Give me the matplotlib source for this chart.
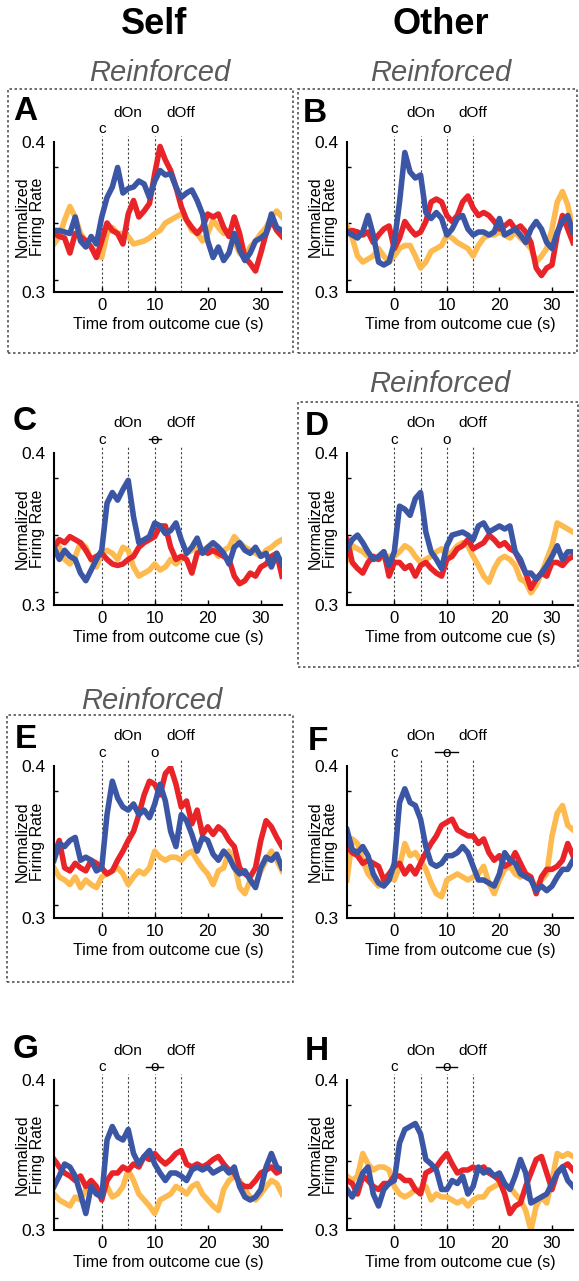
import numpy as np
import matplotlib.pyplot as plt
from matplotlib.patches import Rectangle
from matplotlib.transforms import blended_transform_factory

plt.rcParams['font.family'] = ['Liberation Sans', 'DejaVu Sans']

# time axis (s), one sample per second
time = np.arange(-9, 35)

# normalized firing rate
a_orange = [0.332,0.337,0.348,0.357,0.350,0.339,0.334,0.330,0.326,0.323,0.339,0.343,0.339,0.339,0.337,0.332,0.333,0.334,0.336,0.339,0.341,0.346,0.348,0.350,0.352,0.348,0.341,0.339,0.334,0.339,0.348,0.343,0.339,0.341,0.334,0.326,0.323,0.330,0.334,0.339,0.343,0.350,0.354,0.350]
a_red = [0.339,0.337,0.336,0.326,0.339,0.337,0.334,0.330,0.323,0.334,0.346,0.341,0.339,0.332,0.352,0.361,0.350,0.354,0.359,0.379,0.397,0.388,0.381,0.370,0.357,0.348,0.343,0.339,0.343,0.352,0.350,0.352,0.343,0.337,0.350,0.339,0.323,0.319,0.314,0.326,0.339,0.348,0.341,0.337]
a_blue = [0.341,0.341,0.340,0.339,0.350,0.334,0.330,0.337,0.332,0.350,0.363,0.370,0.383,0.366,0.369,0.370,0.374,0.372,0.363,0.374,0.381,0.378,0.379,0.370,0.363,0.366,0.368,0.361,0.352,0.334,0.323,0.330,0.321,0.326,0.339,0.328,0.321,0.326,0.334,0.336,0.339,0.352,0.343,0.341]

b_orange = [0.344,0.336,0.324,0.320,0.322,0.324,0.329,0.324,0.320,0.324,0.329,0.331,0.331,0.324,0.316,0.320,0.327,0.329,0.331,0.338,0.336,0.333,0.331,0.329,0.324,0.331,0.336,0.338,0.338,0.340,0.338,0.336,0.340,0.336,0.333,0.329,0.320,0.324,0.329,0.342,0.360,0.367,0.358,0.342]
b_red = [0.340,0.341,0.340,0.338,0.340,0.333,0.338,0.342,0.344,0.329,0.336,0.347,0.342,0.338,0.340,0.347,0.360,0.362,0.360,0.351,0.347,0.351,0.360,0.364,0.356,0.351,0.353,0.351,0.347,0.342,0.344,0.347,0.342,0.344,0.340,0.333,0.316,0.311,0.316,0.318,0.338,0.351,0.342,0.333]
b_blue = [0.340,0.338,0.336,0.340,0.351,0.338,0.320,0.318,0.320,0.333,0.360,0.393,0.380,0.376,0.378,0.353,0.349,0.353,0.349,0.338,0.342,0.349,0.351,0.342,0.338,0.340,0.340,0.338,0.340,0.349,0.338,0.340,0.342,0.338,0.333,0.342,0.347,0.342,0.333,0.329,0.340,0.347,0.351,0.340]

c_orange = [0.343,0.338,0.330,0.327,0.332,0.341,0.338,0.330,0.325,0.334,0.336,0.334,0.330,0.338,0.336,0.325,0.319,0.321,0.323,0.327,0.323,0.325,0.330,0.327,0.330,0.334,0.336,0.338,0.336,0.338,0.336,0.332,0.336,0.338,0.345,0.341,0.338,0.336,0.334,0.332,0.336,0.338,0.341,0.343]
c_red = [0.338,0.343,0.341,0.345,0.343,0.341,0.336,0.330,0.332,0.334,0.330,0.327,0.326,0.327,0.330,0.332,0.338,0.341,0.343,0.345,0.352,0.352,0.338,0.330,0.332,0.330,0.321,0.334,0.336,0.334,0.336,0.334,0.332,0.330,0.319,0.314,0.316,0.321,0.319,0.325,0.327,0.332,0.334,0.319]
c_blue = [0.338,0.330,0.336,0.332,0.330,0.321,0.316,0.323,0.330,0.336,0.367,0.374,0.369,0.376,0.382,0.358,0.341,0.343,0.345,0.354,0.352,0.347,0.349,0.354,0.343,0.334,0.338,0.344,0.334,0.338,0.341,0.338,0.334,0.327,0.338,0.341,0.336,0.334,0.338,0.332,0.334,0.325,0.334,0.327]

d_orange = [0.330,0.339,0.337,0.335,0.332,0.330,0.330,0.332,0.332,0.332,0.335,0.339,0.337,0.332,0.328,0.330,0.332,0.335,0.337,0.332,0.335,0.339,0.341,0.339,0.332,0.326,0.319,0.315,0.324,0.330,0.332,0.330,0.326,0.317,0.315,0.308,0.313,0.321,0.330,0.339,0.354,0.352,0.350,0.348]
d_red = [0.343,0.328,0.324,0.321,0.328,0.332,0.330,0.335,0.319,0.328,0.328,0.324,0.326,0.319,0.326,0.328,0.324,0.321,0.319,0.330,0.332,0.337,0.339,0.343,0.337,0.339,0.341,0.346,0.343,0.339,0.341,0.337,0.335,0.328,0.321,0.311,0.317,0.321,0.319,0.328,0.328,0.326,0.330,0.332]
d_blue = [0.337,0.343,0.346,0.341,0.335,0.330,0.332,0.335,0.326,0.335,0.365,0.363,0.359,0.370,0.374,0.348,0.335,0.330,0.324,0.339,0.346,0.347,0.348,0.346,0.343,0.352,0.354,0.348,0.350,0.352,0.350,0.352,0.335,0.330,0.321,0.321,0.317,0.321,0.326,0.332,0.339,0.330,0.335,0.335]

e_orange = [0.333,0.327,0.325,0.322,0.327,0.320,0.325,0.322,0.320,0.327,0.329,0.331,0.333,0.329,0.322,0.327,0.331,0.329,0.333,0.344,0.340,0.338,0.340,0.340,0.338,0.342,0.344,0.338,0.333,0.329,0.322,0.331,0.333,0.344,0.336,0.320,0.316,0.325,0.322,0.331,0.338,0.344,0.338,0.331]
e_red = [0.342,0.351,0.333,0.331,0.336,0.333,0.331,0.338,0.336,0.333,0.329,0.331,0.338,0.344,0.351,0.357,0.368,0.381,0.390,0.388,0.381,0.395,0.399,0.388,0.373,0.377,0.362,0.371,0.355,0.360,0.355,0.360,0.357,0.351,0.347,0.333,0.329,0.327,0.333,0.351,0.364,0.360,0.353,0.347]
e_blue = [0.338,0.349,0.347,0.351,0.353,0.338,0.340,0.338,0.331,0.333,0.368,0.390,0.379,0.373,0.371,0.375,0.368,0.371,0.366,0.375,0.388,0.377,0.357,0.347,0.368,0.364,0.355,0.344,0.353,0.351,0.342,0.338,0.344,0.340,0.333,0.329,0.331,0.325,0.320,0.333,0.340,0.338,0.342,0.333]

f_orange = [0.325,0.352,0.349,0.338,0.329,0.325,0.321,0.325,0.327,0.325,0.334,0.349,0.341,0.343,0.338,0.332,0.323,0.316,0.314,0.325,0.327,0.329,0.327,0.325,0.327,0.329,0.334,0.323,0.316,0.325,0.332,0.334,0.329,0.327,0.329,0.325,0.321,0.325,0.329,0.354,0.369,0.374,0.361,0.358]
f_red = [0.347,0.343,0.341,0.336,0.338,0.336,0.334,0.325,0.329,0.334,0.336,0.329,0.334,0.329,0.336,0.343,0.349,0.354,0.361,0.363,0.365,0.358,0.356,0.354,0.354,0.349,0.352,0.343,0.338,0.341,0.334,0.336,0.343,0.336,0.329,0.327,0.316,0.327,0.332,0.332,0.334,0.338,0.349,0.341]
f_blue = [0.358,0.345,0.343,0.347,0.341,0.329,0.323,0.321,0.325,0.336,0.376,0.385,0.376,0.374,0.365,0.347,0.336,0.334,0.336,0.341,0.341,0.343,0.347,0.343,0.334,0.325,0.325,0.323,0.321,0.329,0.343,0.338,0.336,0.329,0.327,0.325,0.318,0.321,0.318,0.321,0.327,0.332,0.332,0.338]

g_orange = [0.324,0.320,0.318,0.316,0.322,0.320,0.327,0.329,0.324,0.327,0.329,0.322,0.324,0.329,0.340,0.333,0.324,0.320,0.316,0.311,0.320,0.322,0.324,0.329,0.327,0.324,0.329,0.331,0.324,0.320,0.316,0.313,0.327,0.333,0.336,0.333,0.327,0.322,0.320,0.324,0.329,0.333,0.331,0.324]
g_red = [0.347,0.342,0.338,0.336,0.333,0.336,0.329,0.333,0.329,0.320,0.333,0.338,0.338,0.342,0.340,0.344,0.342,0.349,0.347,0.351,0.347,0.344,0.347,0.351,0.353,0.344,0.342,0.344,0.342,0.344,0.347,0.349,0.344,0.340,0.338,0.331,0.329,0.329,0.333,0.338,0.340,0.342,0.338,0.340]
g_blue = [0.329,0.336,0.344,0.342,0.336,0.324,0.311,0.329,0.324,0.322,0.360,0.369,0.362,0.360,0.367,0.351,0.344,0.349,0.353,0.344,0.338,0.333,0.338,0.338,0.336,0.333,0.340,0.342,0.340,0.342,0.338,0.340,0.342,0.338,0.342,0.329,0.322,0.320,0.322,0.327,0.342,0.351,0.342,0.340]

h_orange = [0.336,0.333,0.336,0.351,0.344,0.340,0.342,0.342,0.340,0.329,0.324,0.322,0.324,0.327,0.327,0.329,0.320,0.324,0.322,0.322,0.320,0.318,0.320,0.316,0.320,0.322,0.322,0.327,0.329,0.331,0.329,0.329,0.324,0.320,0.313,0.300,0.316,0.322,0.318,0.333,0.351,0.349,0.351,0.349]
h_red = [0.333,0.331,0.324,0.336,0.333,0.329,0.327,0.331,0.331,0.336,0.336,0.333,0.333,0.327,0.324,0.338,0.340,0.342,0.347,0.351,0.344,0.338,0.340,0.340,0.342,0.340,0.342,0.338,0.336,0.333,0.324,0.311,0.316,0.318,0.329,0.338,0.347,0.349,0.338,0.327,0.338,0.342,0.344,0.340]
h_blue = [0.327,0.322,0.329,0.338,0.342,0.324,0.316,0.327,0.331,0.333,0.358,0.367,0.369,0.371,0.364,0.347,0.344,0.340,0.327,0.327,0.333,0.331,0.336,0.324,0.329,0.342,0.338,0.340,0.336,0.338,0.331,0.327,0.336,0.347,0.338,0.318,0.320,0.322,0.324,0.331,0.338,0.342,0.333,0.329]

panels = {
    'A': (a_orange, a_red, a_blue),
    'B': (b_orange, b_red, b_blue),
    'C': (c_orange, c_red, c_blue),
    'D': (d_orange, d_red, d_blue),
    'E': (e_orange, e_red, e_blue),
    'F': (f_orange, f_red, f_blue),
    'G': (g_orange, g_red, g_blue),
    'H': (h_orange, h_red, h_blue),
}
# spread of outcome time (s) drawn as a bar through "o"
o_spread = {'A': 0, 'B': 0, 'C': 1.1, 'D': 0, 'E': 0, 'F': 2.2, 'G': 1.6, 'H': 2.0}
events = [(0, 'c', 'low'), (5, 'dOn', 'high'), (10, 'o', 'low'), (15, 'dOff', 'high')]

colors = ['#FDBA4F', '#E82429', '#3A56A5']

W, H = 579, 1281
fig = plt.figure(figsize=(W / 100, H / 100), dpi=100)

def fx(x):
    return x / W

def fy(y):
    return 1 - y / H

col_x = [(54, 282), (347, 573)]
row_y = [(142, 292), (453, 605), (766, 918), (1080, 1230)]
letter_pos = {'A': (13, 120), 'B': (303, 122), 'C': (13, 430), 'D': (305, 435),
              'E': (15, 748), 'F': (308, 750), 'G': (13, 1058), 'H': (305, 1060)}

for i, name in enumerate('ABCDEFGH'):
    r, c = divmod(i, 2)
    x0, x1 = col_x[c]
    y0, y1 = row_y[r]
    ax = fig.add_axes([fx(x0), fy(y1), fx(x1) - fx(x0), fy(y0) - fy(y1)])
    for vals, col in zip(panels[name], colors):
        ax.plot(time, vals, color=col, lw=4.0, solid_joinstyle='round')
    ax.set_xlim(-9, 34)
    ax.set_ylim(0.3, 0.4)
    for s in ['top', 'right']:
        ax.spines[s].set_visible(False)
    for s in ['left', 'bottom']:
        ax.spines[s].set_linewidth(1.5)
    ax.set_xticks([0, 10, 20, 30])
    ax.set_yticks([0.3, 0.4])
    ax.set_yticklabels(['0.3', '0.4'])
    ax.set_yticks([0.3083, 0.3458, 0.3833], minor=True)
    ax.tick_params(axis='x', direction='in', length=3.5, width=1, labelsize=12, pad=4)
    ax.tick_params(axis='y', which='major', length=0, labelsize=12.5, pad=6)
    ax.tick_params(axis='y', which='minor', direction='in', length=3, width=1)
    ax.set_xlabel('Time from outcome cue (s)', fontsize=11.5, labelpad=3)
    ax.set_ylabel('Normalized\nFiring Rate', fontsize=11.5, linespacing=1.0)
    ax.yaxis.set_label_coords(-9 / (x1 - x0), 0.5)

    trans = blended_transform_factory(ax.transData, ax.transAxes)
    for t, lab, lev in events:
        ax.plot([t, t], [0, 1.04], transform=trans, color='#444444', lw=0.8,
                ls=(0, (2, 2)), clip_on=False, zorder=0)
        yy = 1.087 if lev == 'low' else 1.195
        ax.text(t, yy, lab, transform=trans, ha='center', va='center', fontsize=11)
    if o_spread[name] > 0:
        ax.plot([10 - o_spread[name], 10 + o_spread[name]], [1.09, 1.09], transform=trans,
                color='black', lw=1, clip_on=False)

    lx, ly = letter_pos[name]
    fig.text(fx(lx), fy(ly), name, fontsize=24, fontweight='bold', va='baseline', ha='left')

# column headers
fig.text(fx(154), fy(24), 'Self', fontsize=26, fontweight='bold', ha='center', va='center')
fig.text(fx(441), fy(24), 'Other', fontsize=26, fontweight='bold', ha='center', va='center')

# reinforced panels: dotted boxes with italic title
boxes = {'A': (8, 89, 293, 353, 160, 73), 'B': (298, 89, 577, 353, 441, 73),
         'D': (298, 402, 578, 667, 440, 384), 'E': (7, 715, 293, 982, 152, 701)}
for name, (bx0, by0, bx1, by1, tx, ty) in boxes.items():
    fig.patches.append(Rectangle((fx(bx0), fy(by1)), fx(bx1) - fx(bx0), fy(by0) - fy(by1),
                                 transform=fig.transFigure, fill=False, ls=(0, (1.5, 1.5)),
                                 lw=1.2, edgecolor='#555555'))
    fig.text(fx(tx), fy(ty), 'Reinforced', fontsize=21, style='italic', color='#5a5a5a',
             ha='center', va='center')

fig.savefig('out.png', dpi=100)
